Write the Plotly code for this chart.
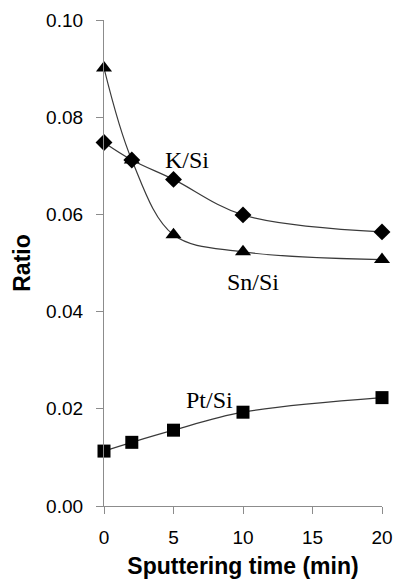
import plotly.graph_objects as go

time_min = [0, 2, 5, 10, 20]
sn_si = [0.0901, 0.0712, 0.0558, 0.0523, 0.0507]
k_si = [0.0748, 0.0712, 0.0672, 0.0599, 0.0564]
pt_si = [0.0113, 0.0131, 0.0156, 0.0193, 0.0223]

x_ticks = [0, 5, 10, 15, 20]
y_ticks = [0.0, 0.02, 0.04, 0.06, 0.08, 0.10]
y_tick_text = ["0.00", "0.02", "0.04", "0.06", "0.08", "0.10"]

labels = ["K/Si", "Sn/Si", "Pt/Si"]
label_x = [6.0, 10.7, 7.6]
label_y = [0.0712, 0.0461, 0.0219]

line_col = "#3a3a3a"
fig = go.Figure()
for ys, sym, sz in [(sn_si, "triangle-up", 14), (k_si, "diamond", 13), (pt_si, "square", 13)]:
    fig.add_trace(go.Scatter(
        x=time_min, y=ys, mode="lines+markers",
        line=dict(color=line_col, width=1.2, shape="spline", smoothing=1.0),
        marker=dict(symbol=sym, size=sz, color="black"),
        cliponaxis=False, showlegend=False))

for t, lx, ly in zip(labels, label_x, label_y):
    fig.add_annotation(x=lx, y=ly, text=t, showarrow=False,
                       font=dict(family="Liberation Serif", size=24, color="black"))

axis_common = dict(showline=True, linecolor="#8c8c8c", linewidth=1.2,
                   ticks="outside", tickcolor="#8c8c8c", ticklen=7, tickwidth=1.2,
                   showgrid=False, zeroline=False, automargin=False,
                   tickfont=dict(family="Liberation Sans", size=19, color="black"))

fig.update_layout(
    width=396, height=587,
    margin=dict(l=104, r=14, t=20, b=80.5),
    plot_bgcolor="white", paper_bgcolor="white",
    xaxis=dict(range=[0, 20], tickvals=x_ticks, ticklabelstandoff=7,
               title=dict(text="<b>Sputtering time (min)</b>", standoff=10,
                          font=dict(family="Liberation Sans", size=23, color="black")),
               **axis_common),
    yaxis=dict(range=[0, 0.10], tickvals=y_ticks, ticktext=y_tick_text, ticklabelstandoff=9,
               title=dict(text="<b>Ratio</b>", standoff=9,
                          font=dict(family="Liberation Sans", size=23, color="black")),
               **axis_common),
)

fig.write_html("out.html", config={"displayModeBar": False},
               post_script="document.body.style.margin='0';document.body.style.overflow='hidden';")
